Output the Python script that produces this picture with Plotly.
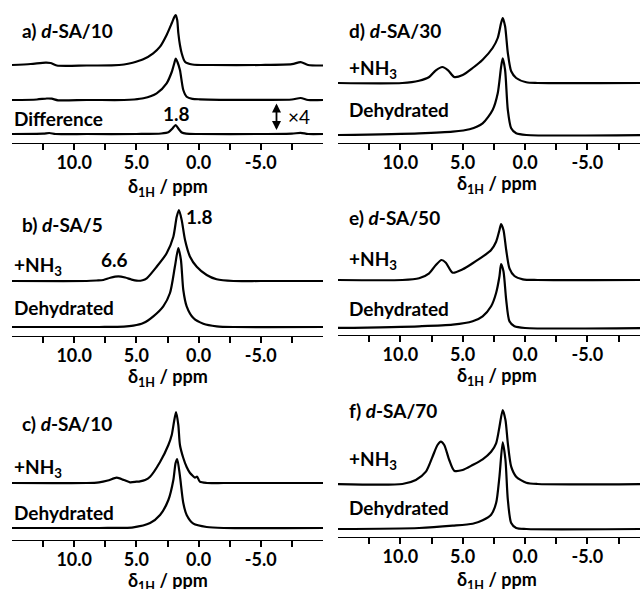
import plotly.graph_objects as go

W, H = 640, 589

# ---------------- data (ppm, intensity in arbitrary units) ----------------
a_top_ppm = [15, 13.5, 12.3, 11.9, 11.4, 9, 7, 6, 5.3, 4.45, 3.65, 3.1, 2.57, 2.16, 1.95, 1.84, 1.72, 1.63, 1.5, 1.36, 1.1, 0.5, -1, -5, -7.5, -8.2, -8.8, -10]
a_top_int = [0, 1, 2.3, 2, -0.5, -0.5, -0.3, 0.5, 2.3, 5.7, 11.7, 18.3, 30, 41.7, 48, 50, 45, 32, 20, 11.7, 3.3, 0.5, 0, 0, 0.8, 2.8, 0, -0.5]
a_mid_ppm = [15, 13, 12.2, 11.8, 11.3, 9, 6, 5.2, 4.44, 3.37, 2.57, 2.16, 1.95, 1.84, 1.7, 1.5, 1.23, 0.96, 0.5, -0.1, -5, -7.5, -8.2, -8.8, -10]
a_mid_int = [0, 0.5, 1.5, 1.3, -0.3, 0, 0, 0.5, 1.7, 6.7, 16.7, 28, 37, 41.5, 38, 30, 10, 3.3, 1.2, 0.7, 0.2, 0.5, 2, 0, 0]
a_diff_ppm = [15, 12.5, 12.0, 11.5, 9, 5, 3, 2.4, 2.1, 1.85, 1.6, 1.35, 1.0, 0, -5, -7.5, -8.2, -8.8, -10]
a_diff_int = [0, 0.3, 1, 0, 0, 0, 0.5, 2, 5.5, 9, 5, 1.5, 0.3, 0, 0, 0.3, 1.2, 0, 0]

b_nh3_ppm = [15, 9, 8.2, 7.66, 7.1, 6.45, 5.9, 5.4, 4.98, 4.5, 4.17, 3.37, 2.57, 2.03, 1.76, 1.58, 1.36, 1.09, 0.69, 0.15, -0.65, -1.45, -2.8, -5, -10]
b_nh3_int = [0, 0, 0.5, 1, 3.3, 4.7, 3.5, 1.5, 0.3, 0.8, 2.7, 14.3, 27.7, 44.3, 64.3, 71, 61, 41, 24.3, 14.3, 6, 1.7, 0, 0, 0]
b_dehy_ppm = [15, 8, 6, 5.25, 4.44, 3.64, 2.84, 2.3, 1.9, 1.63, 1.42, 1.23, 0.96, 0.42, -0.38, -1.45, -2.8, -10]
b_dehy_int = [0, 0, 0.3, 1.3, 4, 10.7, 20.7, 34, 60.7, 79, 67, 37, 20.7, 9, 3.3, 0.7, 0, 0]

c_nh3_ppm = [15, 9, 8, 7.3, 6.58, 6.0, 5.51, 5.0, 4.71, 4.3, 3.9, 3.1, 2.43, 2.16, 1.98, 1.81, 1.63, 1.5, 1.23, 0.96, 0.69, 0.45, 0.29, 0.12, -0.1, -0.65, -2, -5, -10]
c_nh3_int = [0, 0, 0.7, 2.5, 5.3, 3, 0.7, 1.3, 1.7, 3, 6.3, 21, 38, 48, 61, 71, 58, 38, 25, 16, 10, 7, 5.3, 6.3, 1.3, 0, 0, 0, 0]
c_dehy_ppm = [15, 8, 5.25, 3.9, 3.1, 2.43, 2.03, 1.85, 1.72, 1.5, 1.23, 0.96, 0.42, -0.65, -2, -10]
c_dehy_int = [0, 0, 0.7, 5, 13, 28, 48, 65, 69, 52, 25, 13, 4.3, 1, 0, 0]

d_nh3_ppm = [15.1, 9.84, 8.5, 7.69, 7.15, 6.63, 6.17, 5.68, 5.0, 4.2, 3.4, 2.6, 2.19, 1.92, 1.79, 1.6, 1.38, 1.11, 0.71, -0.1, -1, -9.5]
d_nh3_int = [0, 0, 2.3, 6, 12.7, 16, 12.7, 6, 8, 15, 23.3, 35, 45, 60, 65, 56.7, 30, 11.7, 5, 0.7, 0, 0]
d_dehy_ppm = [15.1, 8.5, 5.8, 4.45, 3.4, 2.6, 2.19, 1.92, 1.79, 1.6, 1.38, 1.11, 0.71, -0.1, -9.5]
d_dehy_int = [0, 1.7, 3.3, 5.7, 11.7, 25, 41.7, 68, 76.7, 65, 25, 6.7, 1.7, 0, 0]

e_nh3_ppm = [15.2, 9.84, 8.5, 7.69, 7.15, 6.7, 6.35, 5.8, 5.0, 4.2, 3.4, 2.72, 2.32, 2.05, 1.92, 1.73, 1.51, 1.25, 0.85, 0.18, -1, -9.5]
e_nh3_int = [0, 0, 1.7, 6.7, 15, 20, 17.3, 7.3, 10.7, 16.7, 23.3, 30, 38.3, 50, 56, 50, 30, 11.7, 4, 0.7, 0, 0]
e_dehy_ppm = [15.2, 8.5, 5.8, 4.2, 3.4, 2.72, 2.32, 2.05, 1.92, 1.73, 1.51, 1.25, 0.85, 0, -9.5]
e_dehy_int = [0, 1.7, 3.3, 6.7, 11.7, 21.7, 35, 51.7, 64, 56.7, 28, 6.7, 1.7, 0, 0]

f_nh3_ppm = [15.1, 9.84, 8.76, 7.95, 7.42, 7.02, 6.75, 6.48, 6.08, 5.68, 5.0, 4.2, 3.4, 2.72, 2.32, 2.05, 1.79, 1.57, 1.38, 1.11, 0.71, -0.1, -1, -9.5]
f_nh3_int = [0, 0, 4, 12.3, 27.3, 39, 42.3, 39, 24, 13.3, 14, 19, 24.7, 32.3, 40.7, 57.3, 74, 64, 40.7, 17.3, 7.3, 1.3, 0, 0]
f_dehy_ppm = [15.1, 8.5, 5.8, 4.2, 3.4, 2.72, 2.32, 2.05, 1.79, 1.57, 1.38, 1.11, 0.71, -0.1, -9.5]
f_dehy_int = [0, 1, 3.3, 5.3, 8.7, 14.3, 26, 52.7, 86.7, 69, 29.3, 6, 1, 0, 0]

tick_vals = [12.5, 10, 7.5, 5, 2.5, 0, -2.5, -5, -7.5]
tick_text = ["", "10.0", "", "5.0", "", "0.0", "", "-5.0", ""]

panel_labels = ["a) <i>d</i>-SA/10", "b) <i>d</i>-SA/5", "c) <i>d</i>-SA/10",
                "d) <i>d</i>-SA/30", "e) <i>d</i>-SA/50", "f) <i>d</i>-SA/70"]

# ---------------- layout geometry (pixels) ----------------
FONT = "Lato, DejaVu Sans, sans-serif"
LEFT_X = (12, 323, [15, -10])
RIGHT_X = (338, 640, [15, -9.22])
# name: (xgeom, axis_y, top_y, spectra [(ppm,int,offset)], label_y, title_y)
panels = [
    ("a", LEFT_X, 143, 0, [(a_top_ppm, a_top_int, 78), (a_mid_ppm, a_mid_int, 43), (a_diff_ppm, a_diff_int, 9)], 30, 187),
    ("b", LEFT_X, 336, 195, [(b_nh3_ppm, b_nh3_int, 55), (b_dehy_ppm, b_dehy_int, 9)], 225, 378),
    ("c", LEFT_X, 540, 395, [(c_nh3_ppm, c_nh3_int, 57), (c_dehy_ppm, c_dehy_int, 12)], 423, 581),
    ("d", RIGHT_X, 143, 0, [(d_nh3_ppm, d_nh3_int, 60), (d_dehy_ppm, d_dehy_int, 8)], 30, 185),
    ("e", RIGHT_X, 335, 195, [(e_nh3_ppm, e_nh3_int, 55), (e_dehy_ppm, e_dehy_int, 7)], 217, 376),
    ("f", RIGHT_X, 537, 395, [(f_nh3_ppm, f_nh3_int, 53), (f_dehy_ppm, f_dehy_int, 8)], 410, 580),
]


def P(px, py):
    return px / W, 1 - py / H


fig = go.Figure()
annotations = []
for i, (name, (x0, x1, xr), ay, ty, spectra, label_y, title_y) in enumerate(panels):
    n = i + 1
    xa = "x" if n == 1 else f"x{n}"
    ya = "y" if n == 1 else f"y{n}"
    for ppm, inten, off in spectra:
        fig.add_trace(go.Scatter(
            x=ppm, y=[off + v for v in inten], mode="lines",
            line=dict(color="black", width=2.2, shape="spline", smoothing=0.7),
            xaxis=xa, yaxis=ya, showlegend=False, hoverinfo="skip"))
    xkey = "xaxis" if n == 1 else f"xaxis{n}"
    ykey = "yaxis" if n == 1 else f"yaxis{n}"
    fig.update_layout(**{
        xkey: dict(domain=[x0 / W, min(x1 / W, 1)], range=xr, anchor=ya,
                   showline=True, linecolor="black", linewidth=1.3,
                   ticks="outside", ticklen=6, tickwidth=1.5, tickcolor="black",
                   tickvals=tick_vals, ticktext=tick_text,
                   tickfont=dict(family=FONT, size=18, color="black", weight="bold"),
                   ticklabelstandoff=-3,
                   showgrid=False, zeroline=False, fixedrange=True),
        ykey: dict(domain=[1 - ay / H, 1 - ty / H], range=[0, ay - ty], anchor=xa,
                   visible=False, fixedrange=True),
    })
    # panel label
    lx = 20 if x0 < 100 else 347
    px_, py_ = P(lx, label_y)
    annotations.append(dict(x=px_, y=py_, xref="paper", yref="paper", xanchor="left", yanchor="middle",
                            text=f"<b>{panel_labels[i]}</b>", showarrow=False,
                            font=dict(family=FONT, size=19, color="black")))
    # axis title
    cx = 168 if x0 < 100 else 497
    px_, py_ = P(cx, title_y)
    annotations.append(dict(x=px_, y=py_, xref="paper", yref="paper", xanchor="center", yanchor="middle",
                            text="<b>δ<sub>1H</sub> / ppm</b>", showarrow=False,
                            font=dict(family=FONT, size=18, color="black")))

# trace labels
text_labels = [
    (12, 118, "Difference"),
    (12, 266, "+NH<sub>3</sub>"), (12, 307, "Dehydrated"),
    (12, 468, "+NH<sub>3</sub>"), (12, 512, "Dehydrated"),
    (347, 69, "+NH<sub>3</sub>"), (347, 110, "Dehydrated"),
    (347, 260, "+NH<sub>3</sub>"), (347, 308, "Dehydrated"),
    (347, 460, "+NH<sub>3</sub>"), (347, 507, "Dehydrated"),
]
for lx, ly, t in text_labels:
    px_, py_ = P(lx, ly)
    annotations.append(dict(x=px_, y=py_, xref="paper", yref="paper", xanchor="left", yanchor="middle",
                            text=f"<b>{t}</b>", showarrow=False,
                            font=dict(family=FONT, size=19, color="black")))

for cx, cy, t in [(176, 113, "1.8"), (199, 216, "1.8"), (114, 259, "6.6")]:
    px_, py_ = P(cx, cy)
    annotations.append(dict(x=px_, y=py_, xref="paper", yref="paper", xanchor="center", yanchor="middle",
                            text=f"<b>{t}</b>", showarrow=False,
                            font=dict(family=FONT, size=19, color="black")))

# x4 scaling arrow
px_, py_ = P(276.5, 130)
annotations.append(dict(x=px_, y=py_, xref="paper", yref="paper", ax=0, ay=-28,
                        text="", showarrow=True, arrowhead=2, arrowside="end+start",
                        arrowwidth=1.8, arrowsize=1, arrowcolor="black"))
px_, py_ = P(299, 117)
annotations.append(dict(x=px_, y=py_, xref="paper", yref="paper", xanchor="center", yanchor="middle",
                        text="×4", showarrow=False,
                        font=dict(family=FONT, size=19, color="black")))

fig.update_layout(width=W, height=H, margin=dict(l=0, r=0, t=0, b=0),
                  paper_bgcolor="white", plot_bgcolor="white",
                  annotations=annotations, showlegend=False)

fig.write_html("out.html")
